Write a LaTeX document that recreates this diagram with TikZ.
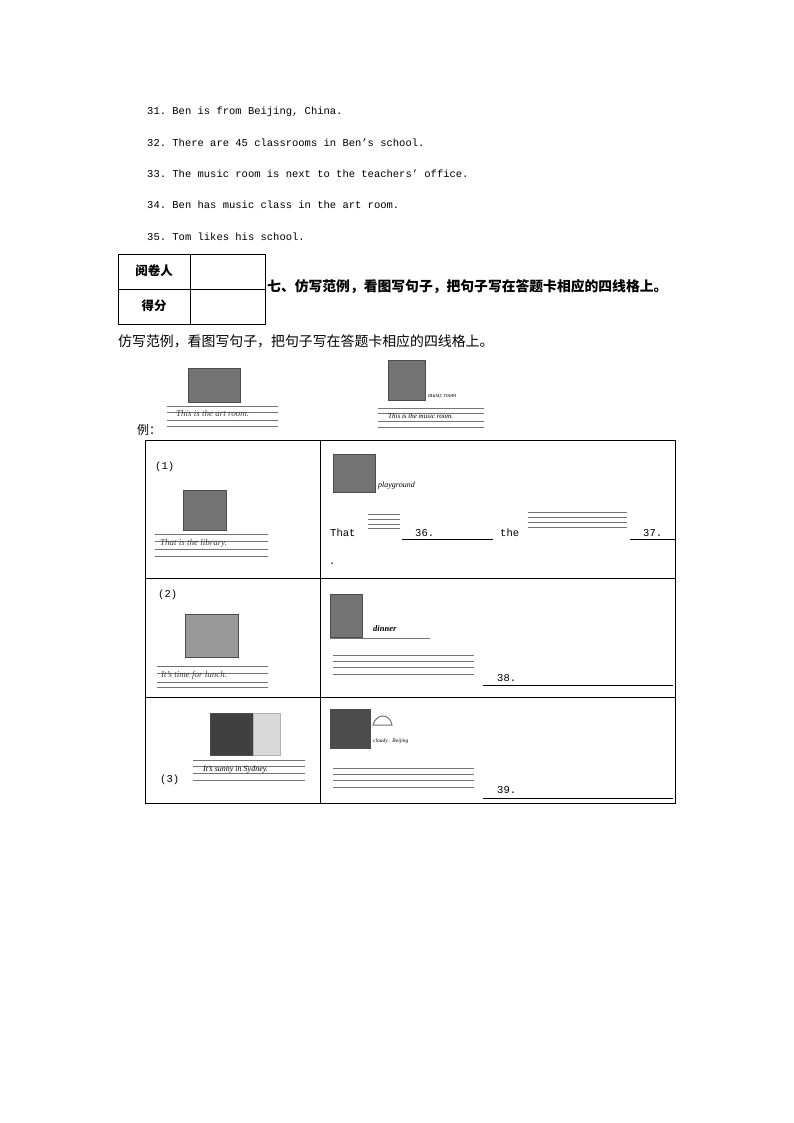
\documentclass[tikz,border=0pt]{standalone}
\usepackage{fontspec}
\setmainfont{Liberation Serif}
\setmonofont{Liberation Mono}
\newfontfamily\cjk{Noto Sans CJK SC}
\begin{document}
\begin{tikzpicture}[x=1pt,y=-1pt,
  t/.style={anchor=west,inner sep=0pt,font=\fontsize{10.5}{12}\ttfamily},
  cj/.style={anchor=west,inner sep=0pt,font=\fontsize{13.5}{15}\cjk},
  it/.style={anchor=west,inner sep=0pt,font=\fontsize{9}{10}\itshape\selectfont\color{black!75}},
  fl/.style={draw=black!55,line width=0.7pt},
  pic/.style={fill=black!55,draw=black!70},
  box/.style={draw,line width=0.8pt}]
\useasboundingbox[fill=white] (0,0) rectangle (794,1123);
\node[t] (l31) at (147,112) {31. Ben is from Beijing, China.};
\node[t] (l32) at (147,143) {32. There are 45 classrooms in Ben’s school.};
\node[t] (l33) at (147,174) {33. The music room is next to the teachers’ office.};
\node[t] (l34) at (147,205) {34. Ben has music class in the art room.};
\node[t] (l35) at (147,237) {35. Tom likes his school.};
% score table
\draw[box] (118,254) rectangle (265,324) (118,289) -- (265,289) (190,254) -- (190,324);
\node[inner sep=0pt,font=\fontsize{12.5}{14}\cjk\bfseries] (r1) at (154,271) {阅卷人};
\node[inner sep=0pt,font=\fontsize{12.5}{14}\cjk\bfseries] (r2) at (154,306) {得分};
\node[cj,font=\fontsize{13.8}{15}\cjk\bfseries] (h) at (267,287) {七、仿写范例，看图写句子，把句子写在答题卡相应的四线格上。};
\node[cj,font=\fontsize{13.9}{15}\cjk] (s) at (118,341) {仿写范例，看图写句子，把句子写在答题卡相应的四线格上。};
% examples
\fill[pic] (188,368) rectangle (240,402);
\foreach \y in {406,412,420,426} \draw[fl] (167,\y) -- (278,\y);
\node[it] (e1) at (176,413) {This is the art room.};
\fill[pic] (388,360) rectangle (425,400);
\node[it,font=\fontsize{6}{7}\itshape] (e2l) at (428,396) {music room};
\foreach \y in {408,413,421,427} \draw[fl] (378,\y) -- (484,\y);
\node[it,font=\fontsize{7}{8}\itshape] (e2) at (388,416) {This is the music room.};
\node[cj,font=\fontsize{12}{14}\cjk] (li) at (137,430) {例：};
% main table
\draw[box] (145,440) rectangle (675,803) (320,440) -- (320,803) (145,578) -- (675,578) (145,697) -- (675,697);
% row 1
\node[t] (n1) at (155,467) {(1)};
\fill[pic] (183,490) rectangle (226,530);
\foreach \y in {534,541,549,556} \draw[fl] (155,\y) -- (268,\y);
\node[it] (c1) at (160,543) {That is the library.};
\fill[pic] (333,454) rectangle (375,492);
\node[it,font=\fontsize{8}{9}\itshape] (p1) at (378,486) {playground};
\node[t] (th) at (330,533) {That};
\foreach \y in {514,519,524,528} \draw[fl] (368,\y) -- (400,\y);
\draw (402,539) -- (493,539);
\node[t] (b36) at (415,533) {36.};
\node[t] (the) at (500,533) {the};
\foreach \y in {512,517,522,527} \draw[fl] (528,\y) -- (627,\y);
\draw (630,539) -- (675,539);
\node[t] (b37) at (643,533) {37.};
\node[t] (dot) at (329,564) {.};
% row 2
\node[t] (n2) at (158,595) {(2)};
\fill[pic,fill=black!40] (185,614) rectangle (238,657);
\foreach \y in {666,673,682,687} \draw[fl] (157,\y) -- (268,\y);
\node[it] (c2) at (161,675) {It’s time for lunch.};
\fill[pic] (330,594) rectangle (362,637);
\node[it,font=\fontsize{8.5}{9}\itshape\bfseries] (p2) at (373,629) {dinner};
\draw[fl] (330,638) -- (430,638);
\foreach \y in {655,661,667,674} \draw[fl] (333,\y) -- (474,\y);
\draw (483,685) -- (673,685);
\node[t] (b38) at (497,678) {38.};
% row 3
\node[t] (n3) at (160,780) {(3)};
\fill[pic,fill=black!75] (210,713) rectangle (253,755);
\fill[pic,fill=black!15,draw=black!30] (253,713) rectangle (280,755);
\foreach \y in {760,766,773,780} \draw[fl] (193,\y) -- (305,\y);
\node[it,font=\fontsize{8}{9}\itshape] (c3) at (203,770) {It’s sunny in Sydney.};
\fill[pic,fill=black!70] (330,709) rectangle (370,748);
\draw[fl,line width=1pt] (373,725) .. controls (376,713) and (390,713) .. (392,725) -- cycle;
\node[it,font=\fontsize{5.5}{6}\itshape] (p3) at (373,741) {cloudy . Beijing};
\foreach \y in {768,774,780,787} \draw[fl] (333,\y) -- (474,\y);
\draw (483,798) -- (673,798);
\node[t] (b39) at (497,790) {39.};
\end{tikzpicture}
\end{document}
